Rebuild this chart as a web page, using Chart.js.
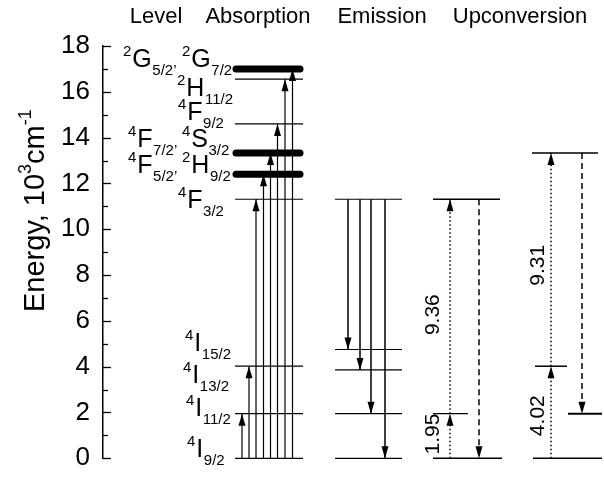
<!DOCTYPE html>
<html>
<head>
<meta charset="utf-8">
<script src="https://cdn.jsdelivr.net/npm/chart.js@4/dist/chart.umd.min.js"></script>
<style>
  html, body { margin: 0; padding: 0; background: #fff; }
  #wrap { width: 604px; height: 483px; }
</style>
</head>
<body>
<div id="wrap"><canvas id="chart" width="604" height="483"></canvas></div>
<script>
// Energy levels, 10^3 cm^-1
const absLevels = [0, 1.95, 4.02, 11.31, 14.6, 16.55];
const absBands = [12.4, 13.33, 17.0];
const absTargets = [1.95, 4.02, 11.31, 12.4, 13.33, 14.6, 16.55, 17.0];
const emLevels = [0, 1.95, 3.86, 4.75, 11.31];
const emTargets = [4.75, 3.86, 1.95, 0];
const up1Steps = [0, 1.95, 11.31];
const up2Steps = [0, 4.02, 13.33];
const up2Final = 1.95;
const up1Labels = ['1.95', '9.36'];
const up2Labels = ['4.02', '9.31'];
const yTicks = [0, 2, 4, 6, 8, 10, 12, 14, 16, 18];
const headers = ['Level', 'Absorption', 'Emission', 'Upconversion'];
const terms = [
    ['2', 'G', '5/2’'], ['2', 'G', '7/2'], ['2', 'H', '11/2'], ['4', 'F', '9/2'],
    ['4', 'F', '7/2’'], ['4', 'S', '3/2'], ['4', 'F', '5/2’'], ['2', 'H', '9/2'],
    ['4', 'F', '3/2'], ['4', 'I', '15/2'], ['4', 'I', '13/2'], ['4', 'I', '11/2'], ['4', 'I', '9/2']
];

const FONT = '"Liberation Sans", Arial, sans-serif';

// column placement on the hidden x scale (0..100)
const absCol = [26.4, 40];
const emCol = [46.4, 59.8];
const absArrowX = [27.8, 29.2, 30.6, 32.1, 33.5, 34.9, 36.4, 37.9];
const emArrowX = [49, 51.4, 53.6, 56.4];
// label anchors [x, y] in chart units
const termPos = [
    [4, 17.08], [15.8, 17.08], [14.8, 15.8], [15, 14.79],
    [5, 13.6], [15.8, 13.6], [5, 12.46], [15.8, 12.46],
    [15, 10.93], [16.4, 4.7], [16, 3.3], [16.6, 1.86], [16.8, 0.04]
];
const headerX = [10.6, 31, 55.8, 83.4];

const datasets = [];
function seg(x0, y0, x1, y1, style) {
    datasets.push(Object.assign({
        data: [{x: x0, y: y0}, {x: x1, y: y1}],
        showLine: true, pointRadius: 0, borderColor: '#000', borderWidth: 1.2, clip: false
    }, style || {}));
}

// absorption column
absLevels.forEach(v => seg(absCol[0], v, absCol[1], v));
absBands.forEach(v => seg(absCol[0] + 0.2, v, absCol[1] - 0.6, v, {borderWidth: 7, borderCapStyle: 'round'}));
absTargets.forEach((v, i) => seg(absArrowX[i], 0, absArrowX[i], v, {arrow: true}));

// emission column
emLevels.forEach(v => seg(emCol[0], v, emCol[1], v));
emTargets.forEach((v, i) => seg(emArrowX[i], emLevels[4], emArrowX[i], v, {arrow: true, borderWidth: 1.5}));

// upconversion 1
seg(66, up1Steps[2], 79.4, up1Steps[2], {borderWidth: 1.5});
seg(66, up1Steps[1], 73, up1Steps[1]);
seg(66, up1Steps[0], 79.8, up1Steps[0], {borderWidth: 1.5});
seg(69.4, up1Steps[0], 69.4, up1Steps[1], {arrow: true, borderDash: [1.5, 2.5], borderWidth: 1.5});
seg(69.4, up1Steps[1], 69.4, up1Steps[2], {arrow: true, borderDash: [1.5, 2.5], borderWidth: 1.5});
seg(75.2, up1Steps[2], 75.2, up1Steps[0], {arrow: true, borderDash: [6, 4], borderWidth: 1.5});

// upconversion 2
seg(85.8, up2Steps[2], 99, up2Steps[2], {borderWidth: 1.5});
seg(86.4, up2Steps[1], 92.8, up2Steps[1], {borderWidth: 1.5});
seg(93, up2Final, 99.8, up2Final, {borderWidth: 2});
seg(86, up2Steps[0], 99.8, up2Steps[0], {borderWidth: 1.5});
seg(89.6, up2Steps[0], 89.6, up2Steps[1], {arrow: true, borderDash: [1.5, 2.5], borderWidth: 1.5});
seg(89.6, up2Steps[1], 89.6, up2Steps[2], {arrow: true, borderDash: [1.5, 2.5], borderWidth: 1.5});
seg(95.8, up2Steps[2], 95.8, up2Final, {arrow: true, borderDash: [6, 4], borderWidth: 1.5});

// arrow heads, inward ticks and all the text
const decor = {
    id: 'decor',
    afterDatasetsDraw(chart) {
        const ctx = chart.ctx;
        const xs = chart.scales.x, ys = chart.scales.y;
        ctx.save();
        ctx.fillStyle = '#000';
        ctx.strokeStyle = '#000';

        chart.data.datasets.forEach((ds, i) => {
            if (!ds.arrow) return;
            const pts = chart.getDatasetMeta(i).data;
            const a = pts[0], b = pts[1];
            const dir = Math.sign(b.y - a.y);
            ctx.beginPath();
            ctx.moveTo(b.x, b.y);
            ctx.lineTo(b.x - 3.5, b.y - dir * 12);
            ctx.lineTo(b.x + 3.5, b.y - dir * 12);
            ctx.closePath();
            ctx.fill();
        });

        // ticks point into the plot
        const ax = chart.chartArea.left;
        ctx.lineWidth = 1.3;
        for (let v = 0; v <= 18; v++) {
            const y = Math.round(ys.getPixelForValue(v)) + 0.5;
            ctx.beginPath();
            ctx.moveTo(ax, y);
            ctx.lineTo(ax + (v % 2 === 0 ? 8 : 5), y);
            ctx.stroke();
        }

        // headers
        ctx.font = '22px ' + FONT;
        ctx.textAlign = 'center';
        ctx.textBaseline = 'alphabetic';
        headers.forEach((h, i) => ctx.fillText(h, xs.getPixelForValue(headerX[i]), 23));

        // term symbols
        ctx.textAlign = 'left';
        terms.forEach((t, i) => {
            let x = xs.getPixelForValue(termPos[i][0]);
            const y = ys.getPixelForValue(termPos[i][1]);
            ctx.font = '15px ' + FONT;
            ctx.fillText(t[0], x, y - 11);
            x += ctx.measureText(t[0]).width + 1;
            ctx.font = '25px ' + FONT;
            ctx.fillText(t[1], x, y);
            x += ctx.measureText(t[1]).width + 0.5;
            ctx.font = '15px ' + FONT;
            ctx.fillText(t[2], x, y + 8);
        });

        // rotated transition energies
        const rot = [[66, 1.06, up1Labels[0]], [66, 6.27, up1Labels[1]], [87, 1.86, up2Labels[0]], [87, 8.43, up2Labels[1]]];
        ctx.font = '21px ' + FONT;
        ctx.textAlign = 'center';
        ctx.textBaseline = 'middle';
        rot.forEach(r => {
            ctx.save();
            ctx.translate(xs.getPixelForValue(r[0]), ys.getPixelForValue(r[1]));
            ctx.rotate(-Math.PI / 2);
            ctx.fillText(r[2], 0, 0);
            ctx.restore();
        });

        // axis title with superscripts
        ctx.save();
        ctx.translate(44, 312);
        ctx.rotate(-Math.PI / 2);
        ctx.textAlign = 'left';
        ctx.textBaseline = 'alphabetic';
        let tx = 0;
        const part = (s, size, dy) => {
            ctx.font = size + 'px ' + FONT;
            ctx.fillText(s, tx, dy);
            tx += ctx.measureText(s).width;
        };
        part('Energy, 10', 29, 0);
        part('3', 18, -13);
        part('cm', 29, 0);
        part('-1', 18, -13);
        ctx.restore();

        ctx.restore();
    }
};

new Chart(document.getElementById('chart'), {
    type: 'scatter',
    data: {datasets},
    options: {
        responsive: false,
        animation: false,
        layout: {padding: {left: 0, right: 1, top: 46, bottom: 12}},
        plugins: {legend: {display: false}, tooltip: {enabled: false}},
        scales: {
            x: {type: 'linear', min: 0, max: 100, display: false},
            y: {
                min: 0, max: 18,
                afterBuildTicks: s => { s.ticks = yTicks.map(v => ({value: v})); },
                afterFit: s => { s.width = 103; },
                grid: {display: false, drawTicks: false},
                border: {display: true, color: '#000', width: 1.5},
                ticks: {
                    color: '#000', padding: 13,
                    font: {family: FONT, size: 26, lineHeight: 0.9}
                }
            }
        }
    },
    plugins: [decor]
});
</script>
</body>
</html>
